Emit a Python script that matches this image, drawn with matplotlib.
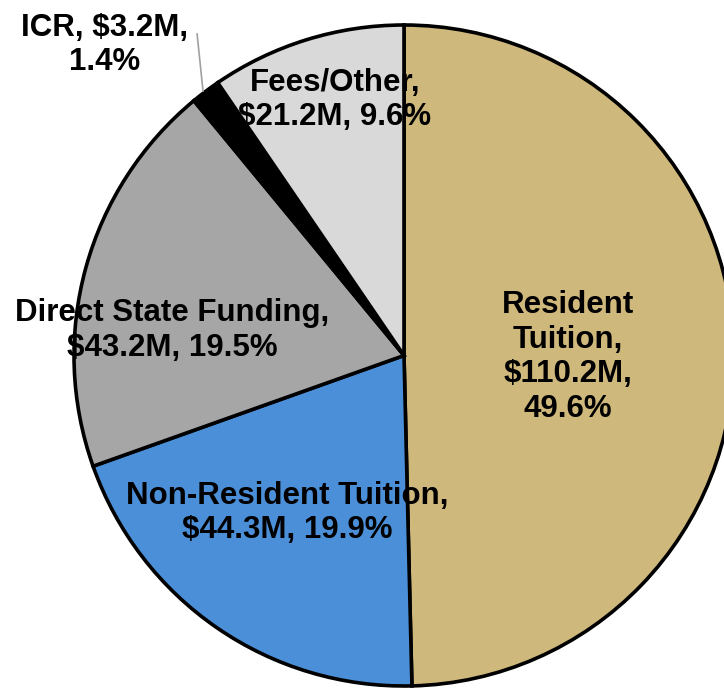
import matplotlib
matplotlib.use("Agg")
import matplotlib.pyplot as plt

labels = ["Resident\nTuition,\n$110.2M,\n49.6%",
          "Non-Resident Tuition,\n$44.3M, 19.9%",
          "Direct State Funding,\n$43.2M, 19.5%",
          "ICR, $3.2M,\n1.4%",
          "Fees/Other,\n$21.2M, 9.6%"]
amounts = [110.2, 44.3, 43.2, 3.2, 21.2]
colors = ["#CFB87C", "#4A8FD8", "#A5A6A5", "#000000", "#D9D9D9"]

# label centres (pie radius = 1)
label_pos = [(0.497, -0.005), (-0.355, -0.476), (-0.703, 0.076),
             (-0.906, 0.939), (-0.209, 0.773)]

plt.rcParams['font.family'] = ['Liberation Sans', 'DejaVu Sans']

fig = plt.figure(figsize=(7.24, 6.88), dpi=100)
ax = fig.add_axes([74 / 724, 2 / 688, 660 / 724, 661 / 688])
wedges, _ = ax.pie(amounts, colors=colors, startangle=90, counterclock=False,
                   wedgeprops=dict(edgecolor="black", linewidth=2.6))
for w in wedges:
    w.set_clip_on(False)
ax.set_xlim(-1, 1)
ax.set_ylim(-1, 1)
ax.set_aspect("auto")
ax.axis("off")

for txt, (x, y) in zip(labels, label_pos):
    ax.text(x, y, txt, ha="center", va="center", fontsize=22.5,
            fontweight="bold", linespacing=1.2, clip_on=False)

# leader line for ICR
ax.plot([-0.627, -0.609], [0.973, 0.8], color="#A0A0A0", lw=1.2, clip_on=False)

fig.savefig("out.png", dpi=100)
